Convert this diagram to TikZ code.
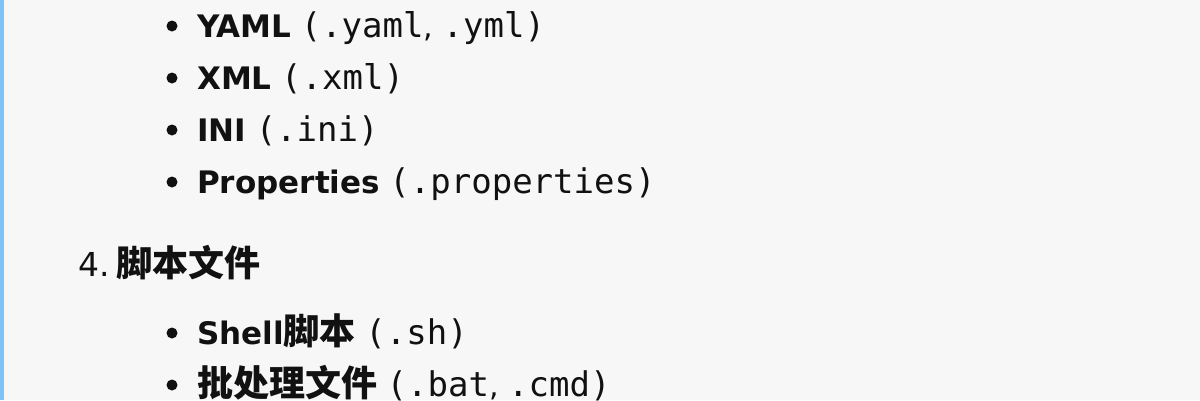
\documentclass[tikz,border=0pt]{standalone}
\usepackage{fontspec}
\setmainfont{DejaVu Sans}
\setmonofont{DejaVu Sans Mono}
\newfontfamily\cjk{Noto Sans CJK SC}
\usetikzlibrary{positioning}

\definecolor{pagebg}{HTML}{F7F7F7}
\definecolor{quotebar}{HTML}{80C4F5}
\definecolor{ink}{HTML}{111111}

% Fontes dos itens
\newcommand{\termo}[1]{{\fontsize{31}{36}\selectfont\bfseries #1}}
\newcommand{\chn}[1]{{\fontsize{36}{40}\selectfont\cjk\bfseries #1}}
\newcommand{\ext}[1]{{\fontsize{34}{40}\selectfont\ttfamily #1}}

\begin{document}
\begin{tikzpicture}[x=1pt,y=-1pt,
    item/.style={anchor=base west, inner sep=0pt, text=ink, font=\fontsize{30}{36}\selectfont},
    dot/.style={circle, fill=ink, inner sep=0pt, minimum size=11pt}]
    % Fundo e barra lateral
    \fill[pagebg] (0,0) rectangle (1200,400);
    \fill[quotebar] (0,0) rectangle (4,400);
    \useasboundingbox (0,0) rectangle (1200,400);

    % Marcadores
    \node[dot] (dotA) at (172,26) {};
    \node[dot] (dotB) at (172,78) {};
    \node[dot] (dotC) at (172,130) {};
    \node[dot] (dotD) at (172,182) {};
    \node[dot] (dotE) at (172,333) {};
    \node[dot] (dotF) at (172,385) {};

    % Formatos de configuracao
    \node[item] (yaml) at (197,37) {\termo{YAML} \ext{(.yaml}, \ext{.yml)}};
    \node[item] (xml) at (197,89) {\termo{XML} \ext{(.xml)}};
    \node[item] (ini) at (197,141) {\termo{INI} \ext{(.ini)}};
    \node[item] (props) at (197,193) {\termo{Properties} \ext{(.properties)}};

    % Titulo da secao
    \node[item] (script) at (78,276) {{\fontsize{33}{40}\selectfont 4.}\hspace{7pt}\chn{脚本文件}};

    % Scripts
    \node[item] (shell) at (197,344) {\termo{Shell}\chn{脚本} \ext{(.sh)}};
    \node[item] (batch) at (197,396) {\chn{批处理文件} \ext{(.bat}, \ext{.cmd)}};
  \end{tikzpicture}
\end{document}
